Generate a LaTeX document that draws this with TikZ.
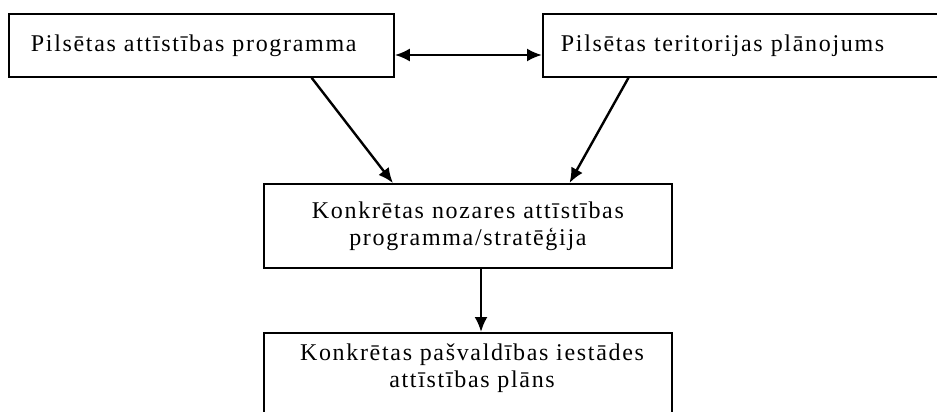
\documentclass[tikz,border=0pt]{standalone}
\usepackage{fontspec}
\setmainfont{Liberation Serif}[LetterSpace=7]
\usetikzlibrary{arrows.meta,calc}
\begin{document}
\begin{tikzpicture}[x=1pt,y=-1pt,
  box/.style={draw,line width=1.8pt,rectangle,inner sep=0pt,font=\fontsize{24}{27}\selectfont},
  lbl/.style={inner sep=0pt,align=center,font=\fontsize{24}{27}\selectfont},
  tip/.tip={Latex[length=15pt,width=13pt]},
  arr/.style={line width=2.4pt,-tip}]
\clip (0,0) rectangle (937,412);
\fill[white] (0,0) rectangle (937,412);
\node[box, anchor=north west, minimum width=385pt, minimum height=63pt,
      text width=341pt, inner xsep=22pt, align=left] (tl) at (8,13)
      {Pilsētas attīstības programma};
\node[box, anchor=north west, minimum width=416pt, minimum height=63pt,
      text width=380pt, inner xsep=18pt, align=left] (tr) at (542,13)
      {Pilsētas teritorijas plānojums};
\node[box, anchor=north west, minimum width=408pt, minimum height=84pt,
      text width=400pt, inner xsep=4pt, align=center] (mid) at (263,183)
      {Konkrētas nozares attīstības\\programma/stratēģija};
\node[box, anchor=north west, minimum width=408pt, minimum height=120pt] (bot) at (263,332) {};
\node[lbl] (bottxt) at (472,368) {Konkrētas pašvaldības iestādes\\attīstības plāns};
\coordinate (h) at (0,55);
\draw[line width=2.4pt,tip-tip] (tl.east |- h) -- (tr.west |- h);
\draw[arr] ($(tl.south west)!0.785!(tl.south east)$) -- ($(mid.north west)!0.317!(mid.north east)$);
\draw[arr] ($(tr.south west)!0.207!(tr.south east)$) -- ($(mid.north west)!0.748!(mid.north east)$);
\coordinate (v) at ($(mid.south west)!0.532!(mid.south east)$);
\draw[arr] (v) -- (v |- bot.north);
\end{tikzpicture}
\end{document}
